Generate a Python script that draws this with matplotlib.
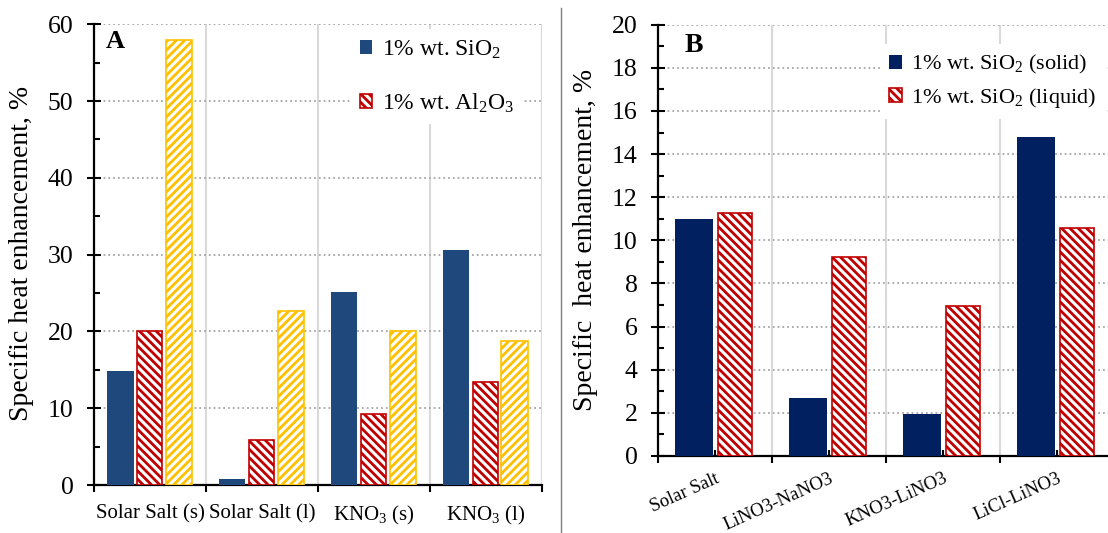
import numpy as np
import matplotlib
matplotlib.use("Agg")
import matplotlib.pyplot as plt
from matplotlib.lines import Line2D

plt.rcParams['font.family'] = ['Liberation Serif', 'DejaVu Serif']
plt.rcParams['mathtext.fontset'] = 'custom'
plt.rcParams['mathtext.rm'] = 'Liberation Serif'
plt.rcParams['mathtext.it'] = 'Liberation Serif:italic'
plt.rcParams['hatch.linewidth'] = 2.0

# panel A
cats_a = ["Solar Salt (s)", "Solar Salt (l)", "KNO$_3$ (s)", "KNO$_3$ (l)"]
sio2_a = [14.8, 0.8, 25.2, 30.6]
al2o3_a = [20.0, 5.9, 9.3, 13.4]
third_a = [57.9, 22.6, 20.0, 18.7]

# panel B
cats_b = ["Solar Salt", "LiNO3-NaNO3", "KNO3-LiNO3", "LiCl-LiNO3"]
solid_b = [11.0, 2.7, 1.95, 14.8]
liquid_b = [11.25, 9.25, 6.95, 10.55]

W, H = 1108, 533
fig = plt.figure(figsize=(W / 100, H / 100), dpi=100)


def px_axes(left, top, right, bottom):
    return fig.add_axes([left / W, 1 - bottom / H, (right - left) / W, (bottom - top) / H])


def style(ax, labels, ymax, ystep, lab_kw, lab_pad):
    n = len(labels)
    ax.set_xlim(0, n)
    ax.set_ylim(0, ymax)
    ax.set_xticks(np.arange(n + 1), [""] * (n + 1))
    ax.set_xticks(np.arange(n) + 0.5, labels, minor=True, **lab_kw)
    ax.set_yticks(np.arange(0, ymax + 0.01, ystep))
    ax.set_yticks(np.arange(ystep / 2, ymax, ystep), minor=True)
    ax.tick_params(axis='y', which='major', direction='inout', length=10, width=1.5,
                   labelsize=18.5, pad=10)
    ax.tick_params(axis='y', which='minor', direction='in', length=4, width=1.5)
    ax.tick_params(axis='x', which='major', direction='out', length=5, width=1.5)
    ax.tick_params(axis='x', which='minor', direction='in', length=4, width=1.5,
                   pad=lab_pad)
    ax.grid(axis='y', which='major', ls=':', color='#A6A6A6', lw=1.3)
    ax.grid(axis='x', which='major', ls='-', color='#D9D9D9', lw=1.5)
    ax.set_axisbelow(True)
    for s in ['top', 'right']:
        ax.spines[s].set_visible(False)
    for s in ['left', 'bottom']:
        ax.spines[s].set_linewidth(1.6)


# ---------- A ----------
axA = px_axes(94.3, 24.3, 541.5, 485)
xa = np.arange(len(cats_a))
bA1 = axA.bar(xa + 0.234, sio2_a, 0.235, color='#1F497D', zorder=3)
bA2 = axA.bar(xa + 0.496, al2o3_a, 0.225, color='white', edgecolor='#C00000',
              hatch='\\\\\\\\', lw=1.2, zorder=3)
axA.bar(xa + 0.759, third_a, 0.235, color='white', edgecolor='#FFC000',
        hatch='////', lw=1.2, zorder=3)
style(axA, cats_a, 60, 10, dict(fontsize=15), 14)
axA.legend([bA1, bA2], ["1% wt. SiO$_2$", "1% wt. Al$_2$O$_3$"],
           loc='upper left', bbox_to_anchor=(351 / W, 1 - 29 / H),
           bbox_transform=fig.transFigure, fontsize=17, frameon=True,
           facecolor='white', edgecolor='none', framealpha=1, fancybox=False,
           borderpad=0.4, labelspacing=1.3, handlelength=0.5, handleheight=0.5,
           handletextpad=0.4, borderaxespad=0)
fig.text(106 / W, 1 - 41 / H, "A", fontsize=19, fontweight='bold', ha='left', va='center')
fig.text(22 / W, 1 - 253 / H, "Specific heat enhancement, %", fontsize=20,
         rotation=90, ha='center', va='center')

# ---------- B ----------
axB = px_axes(658.3, 24.7, 1114.3, 456)
xb = np.arange(len(cats_b))
bB1 = axB.bar(xb + 0.315, solid_b, 0.335, color='#002060', zorder=3)
bB2 = axB.bar(xb + 0.671, liquid_b, 0.30, color='white', edgecolor='#C00000',
              hatch='\\\\\\\\', lw=1.2, zorder=3)
style(axB, cats_b, 20, 2,
      dict(fontsize=13.5, rotation=24, ha='right', va='top', rotation_mode='anchor'), 10)
axB.legend([bB1, bB2], ["1% wt. SiO$_2$ (solid)", "1% wt. SiO$_2$ (liquid)"],
           loc='upper left', bbox_to_anchor=(880 / W, 1 - 44 / H),
           bbox_transform=fig.transFigure, fontsize=16, frameon=True,
           facecolor='white', edgecolor='none', framealpha=1, fancybox=False,
           borderpad=0.4, labelspacing=0.45, handlelength=0.6, handleheight=0.6,
           handletextpad=0.4, borderaxespad=0)
fig.text(685 / W, 1 - 45.5 / H, "B", fontsize=20, fontweight='bold', ha='left', va='center')
fig.text(586 / W, 1 - 240 / H, "Specific  heat enhancement, %", fontsize=20,
         rotation=90, ha='center', va='center')

fig.add_artist(Line2D([560.7 / W] * 2, [0, 1 - 8 / H], transform=fig.transFigure,
                      color='#7F7F7F', lw=1))

fig.savefig("out.png", dpi=100)
